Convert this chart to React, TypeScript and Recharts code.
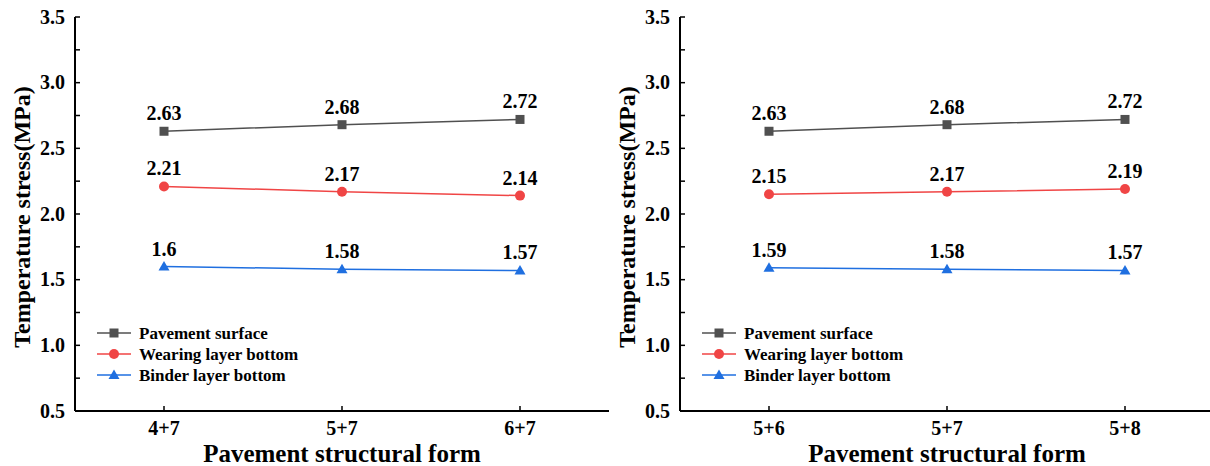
import React from 'react';
import { LineChart, Line, XAxis, YAxis, LabelList, Label } from 'recharts';

const leftCategories = ['4+7', '5+7', '6+7'];
const leftSurface = [2.63, 2.68, 2.72];
const leftWearing = [2.21, 2.17, 2.14];
const leftBinder = [1.6, 1.58, 1.57];

const rightCategories = ['5+6', '5+7', '5+8'];
const rightSurface = [2.63, 2.68, 2.72];
const rightWearing = [2.15, 2.17, 2.19];
const rightBinder = [1.59, 1.58, 1.57];

const yTicks = [0.5, 0.75, 1.0, 1.25, 1.5, 1.75, 2.0, 2.25, 2.5, 2.75, 3.0, 3.25, 3.5];
const yMajorTicks = [0.5, 1.0, 1.5, 2.0, 2.5, 3.0, 3.5];

const seriesNames = ['Pavement surface', 'Wearing layer bottom', 'Binder layer bottom'];
const xTitle = 'Pavement structural form';
const yTitle = 'Temperature stress(MPa)';

const FONT = "'Liberation Serif', 'Times New Roman', Times, serif";
const GRAY = '#505050';
const RED = '#f04545';
const BLUE = '#1f6fe0';
const COLORS = [GRAY, RED, BLUE];

const txt = (size: number): React.CSSProperties => ({ fontFamily: FONT, fontWeight: 700, fontSize: size });

function buildRows(cats: string[], s: number[], w: number[], b: number[]) {
  return cats.map((c, i) => ({ cat: c, surface: s[i], wearing: w[i], binder: b[i] }));
}

const SquareDot = (props: any) => {
  const { cx, cy } = props;
  if (cx == null || cy == null) return null;
  return <rect x={cx - 4.5} y={cy - 4.5} width={9} height={9} fill={GRAY} />;
};
const CircleDot = (props: any) => {
  const { cx, cy } = props;
  if (cx == null || cy == null) return null;
  return <circle cx={cx} cy={cy} r={5} fill={RED} />;
};
const TriDot = (props: any) => {
  const { cx, cy } = props;
  if (cx == null || cy == null) return null;
  return <polygon points={`${cx},${cy - 5.5} ${cx - 5.5},${cy + 4} ${cx + 5.5},${cy + 4}`} fill={BLUE} />;
};

const ValueLabel = (props: any) => {
  const { x, y, value } = props;
  return (
    <text x={x} y={y - 11} textAnchor="middle" style={txt(20)} fill="#000">
      {String(value)}
    </text>
  );
};

const YTick = (props: any) => {
  const { x, y, payload } = props;
  const v = payload.value;
  if (!yMajorTicks.some((m) => Math.abs(m - v) < 1e-6)) return <g />;
  return (
    <text x={x} y={y} dy={6.5} textAnchor="end" style={txt(20)} fill="#000">
      {v.toFixed(1)}
    </text>
  );
};

const XTick = (props: any) => {
  const { x, payload } = props;
  return (
    <text x={x} y={435} textAnchor="middle" style={txt(20)} fill="#000">
      {payload.value}
    </text>
  );
};

const LegendBox = ({ left, top }: { left: number; top: number }) => (
  <svg width={240} height={70} style={{ position: 'absolute', left, top, overflow: 'visible' }}>
    {[0, 1, 2].map((i) => {
      const cy = 8 + i * 21;
      const c = COLORS[i];
      return (
        <g key={i}>
          <line x1={0} x2={34} y1={cy} y2={cy} stroke={c} strokeWidth={1.5} />
          {i === 0 && <rect x={12.5} y={cy - 4.5} width={9} height={9} fill={c} />}
          {i === 1 && <circle cx={17} cy={cy} r={5} fill={c} />}
          {i === 2 && <polygon points={`17,${cy - 5.5} 11.5,${cy + 4} 22.5,${cy + 4}`} fill={c} />}
          <text x={42} y={cy + 5.5} style={txt(17)} fill="#000">
            {seriesNames[i]}
          </text>
        </g>
      );
    })}
  </svg>
);

function Panel({ rows }: { rows: any[] }) {
  return (
    <LineChart width={620} height={466} data={rows} margin={{ top: 17, right: 11, bottom: 0, left: 15 }}>
      <XAxis
        dataKey="cat"
        height={55}
        padding={{ left: 89, right: 89 }}
        axisLine={{ stroke: '#000', strokeWidth: 2 }}
        tickLine={{ stroke: '#000', strokeWidth: 1.5 }}
        tickSize={-5}
        tickMargin={20}
        tick={<XTick />}
        interval={0}
      >
        <Label
          content={() => (
            <text x={342} y={462} textAnchor="middle" style={txt(25)} fill="#000">
              {xTitle}
            </text>
          )}
        />
      </XAxis>
      <XAxis
        xAxisId="top"
        dataKey="cat"
        orientation="top"
        height={0}
        tick={false}
        tickLine={false}
        axisLine={{ stroke: '#000', strokeWidth: 2 }}
      />
      <YAxis
        type="number"
        domain={[0.5, 3.5]}
        ticks={yTicks}
        width={60}
        interval={0}
        axisLine={{ stroke: '#000', strokeWidth: 2 }}
        tickLine={{ stroke: '#000', strokeWidth: 1.5 }}
        tickSize={-5}
        tickMargin={15}
        tick={<YTick />}
      >
        <Label
          content={(p: any) => {
            const vb = p.viewBox || { y: 17, height: 394 };
            const cy = vb.y + vb.height / 2 + 3;
            return (
              <text
                x={0}
                y={0}
                transform={`translate(30, ${cy}) rotate(-90)`}
                textAnchor="middle"
                style={txt(24)}
                fill="#000"
              >
                {yTitle}
              </text>
            );
          }}
        />
      </YAxis>
      <YAxis
        yAxisId="right"
        orientation="right"
        type="number"
        domain={[0.5, 3.5]}
        width={0}
        tick={false}
        tickLine={false}
        axisLine={{ stroke: '#000', strokeWidth: 2 }}
      />
      <Line dataKey="surface" name={seriesNames[0]} stroke={GRAY} strokeWidth={1.5} dot={<SquareDot />} isAnimationActive={false}>
        <LabelList dataKey="surface" content={<ValueLabel />} />
      </Line>
      <Line dataKey="wearing" name={seriesNames[1]} stroke={RED} strokeWidth={1.5} dot={<CircleDot />} isAnimationActive={false}>
        <LabelList dataKey="wearing" content={<ValueLabel />} />
      </Line>
      <Line dataKey="binder" name={seriesNames[2]} stroke={BLUE} strokeWidth={1.5} dot={<TriDot />} isAnimationActive={false}>
        <LabelList dataKey="binder" content={<ValueLabel />} />
      </Line>
    </LineChart>
  );
}

export default function App() {
  const leftRows = buildRows(leftCategories, leftSurface, leftWearing, leftBinder);
  const rightRows = buildRows(rightCategories, rightSurface, rightWearing, rightBinder);
  return (
    <div style={{ position: 'absolute', left: 0, top: 0, width: 1210, height: 466, overflow: 'hidden', background: '#fff' }}>
      <div style={{ position: 'absolute', left: 0, top: 0, width: 620, height: 466 }}>
        <Panel rows={leftRows} />
        <LegendBox left={97} top={325} />
      </div>
      <div style={{ position: 'absolute', left: 605, top: 0, width: 620, height: 466 }}>
        <Panel rows={rightRows} />
        <LegendBox left={97} top={325} />
      </div>
    </div>
  );
}
